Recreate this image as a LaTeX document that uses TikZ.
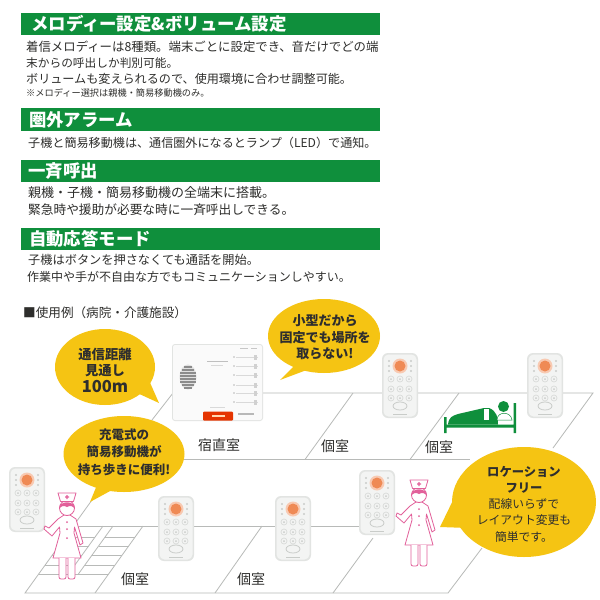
\documentclass[tikz,border=0pt]{standalone}
\usepackage{fontspec}
\setmainfont{Noto Sans CJK JP}
\definecolor{barg}{HTML}{0F8F3C}
\definecolor{bubb}{HTML}{F5C413}
\definecolor{pinkn}{HTML}{E2609A}
\definecolor{floorg}{HTML}{B8BAB8}
\definecolor{txt}{HTML}{2E2E2C}
\definecolor{org}{HTML}{EF8A55}
\definecolor{devout}{HTML}{E2E4E2}
\definecolor{devin}{HTML}{F3F4F3}
\definecolor{btn}{HTML}{C9CCC9}
\tikzset{
 bar/.style={fill=barg,draw=none},
 head/.style={anchor=west,text=white,font=\fontsize{17.4}{17}\selectfont\bfseries,inner sep=0pt},
 body/.style={anchor=west,text=txt,inner sep=0pt},
 room/.style={text=txt,font=\fontsize{14}{14}\selectfont,inner sep=0pt},
 fl/.style={draw=floorg,line width=.8pt},
 bub/.style={fill=bubb,draw=none},
 btext/.style={align=center,text=black!82,inner sep=0pt},
 nur/.style={draw=pinkn,line width=.8pt,fill=white,line join=round},
 remote/.pic={
  \fill[devout,rounded corners=6pt] (0,0) rectangle (36,65);
  \fill[devin,rounded corners=5pt] (1.5,1.5) rectangle (34.5,63.5);
  \fill[org!45!white] (18,13) circle (7.5);
  \fill[org] (18,13) circle (5.5);
  \foreach \x/\y in {7/8,7/13,7/18,29/8,29/13,29/18}{\fill[btn] (\x,\y) circle (1.1);}
  \foreach \y in {26,36,45}{\foreach \x in {9,18,27}{\draw[btn!70!white,line width=.7pt] (\x,\y) circle (3);\fill[btn] (\x,\y) circle (1);}}
  \draw[btn,line width=.8pt,fill=devin] (18,53) ellipse (7 and 4);
  \draw[btn,line width=.6pt] (11,61)--(25,61);
 },
 nurse/.pic={
  \draw[nur] (-3,7)--(-9,11)--(-18,20)--(-22,18)--(-23,21)--(-15,28)--(-7.5,19)--(-7,25)--(-14,50)--(14,50)--(7,25)--(7.5,19)--(13,37)--(16,35)--(9,11)--(3,7)--cycle;
  \draw[nur,rounded corners=2pt] (-8,50)--(-8,71)--(-1,71)--(-1,50) (1,50)--(1,71)--(8,71)--(8,50);
  \fill[pinkn] (0,14) circle (1) (0,21) circle (1) (0,30) circle (1);
  \draw[nur] (0,0) circle (7.5);
  \fill[pinkn] (-8,1)..controls (-8,-8) and (8,-8)..(8,1)..controls (6,-2) and (3,-3)..(0,-1)..controls (-3,-3) and (-6,-2)..(-8,1)--cycle;
  \draw[nur] (-9,-15)--(9,-15)--(6.5,-6.5)--(-6.5,-6.5)--cycle;
  \fill[pinkn] (-.7,-13) rectangle (.7,-9) (-2,-11.7) rectangle (2,-10.3);
 },
}
\newcommand{\fsz}[1]{\fontsize{#1}{14}\selectfont}
\begin{document}
\begin{tikzpicture}[x=1pt,y=-1pt]
\useasboundingbox (0,0) rectangle (600,600);
\fill[white] (0,0) rectangle (600,600);
% header bars
\fill[bar] (21,13) rectangle (380,35);
\fill[bar] (21,108) rectangle (380,131);
\fill[bar] (21,160) rectangle (380,182);
\fill[bar] (21,228) rectangle (380,250);
\node[head] (h1) at (31,24) {メロディー設定\&ボリューム設定};
\node[head] (h2) at (29,120) {圏外アラーム};
\node[head] (h3) at (28,171) {一斉呼出};
\node[head] (h4) at (29,239) {自動応答モード};
\node[body,font=\fsz{12.4}] (t1) at (26,47) {着信メロディーは8種類。端末ごとに設定でき、音だけでどの端};
\node[body,font=\fsz{11.7}] (t2) at (26,63) {末からの呼出しか判別可能。};
\node[body,font=\fsz{12.1}] (t3) at (26,79) {ボリュームも変えられるので、使用環境に合わせ調整可能。};
\node[body,font=\fsz{9.2}] (t4) at (26,93) {※メロディー選択は親機・簡易移動機のみ。};
\node[body,font=\fsz{12.1}] (t5) at (28,143) {子機と簡易移動機は、通信圏外になるとランプ（LED）で通知。};
\node[body,font=\fsz{13}] (t6) at (28,193) {親機・子機・簡易移動機の全端末に搭載。};
\node[body,font=\fsz{12.7}] (t7) at (28,210) {緊急時や援助が必要な時に一斉呼出しできる。};
\node[body,font=\fsz{12.2}] (t8) at (28,260) {子機はボタンを押さなくても通話を開始。};
\node[body,font=\fsz{12}] (t9) at (27,277) {作業中や手が不自由な方でもコミュニケーションしやすい。};
\node[body,font=\fsz{12.6}] (t10) at (23,313) {■使用例（病院・介護施設）};
% floors
\draw[fl] (263,393)--(593,393)--(553,448);
\draw[fl] (173,393)--(152,420);
\draw[fl] (183,459.5)--(470,459.5);
\draw[fl] (353,393)--(305,459.5);
\draw[fl] (459,393)--(410,459.5);
\draw[fl] (92,500)--(25,593)--(448,593)--(482,548);
\draw[fl] (73,526)--(360,526);
\draw[fl] (262,526)--(215,593);
\draw[fl] (373,538)--(333,593);
\draw[fl] (103,526)--(68.4,574);
\draw[fl] (113,526)--(78.4,574);
\draw[fl] (143,526)--(95,593);
\foreach \y/\a/\b/\c/\d in {537/65.4/95/105/135,546/58.9/88.6/98.6/128.6,555/52.4/82/92/122,565/45.2/75/85/115}{\draw[fl] (\a,\y)--(\b,\y) (\c,\y)--(\d,\y);}
\draw[fl] (38.7,574)--(108.4,574);
% main unit
\fill[devout,rounded corners=3pt] (172,344) rectangle (263,421);
\fill[white!96!gray,rounded corners=2pt] (173,345) rectangle (262,420);
\fill[black!12] (188,377) ellipse (8.5 and 12.5);
\foreach \y/\w in {367/4,370/6,373/8,376/8,379/8,382/8,385/6,388/4}{\draw[black!45,line width=1.2pt] (188-\w,\y)--(188+\w,\y);}
\fill[black!25] (207,360.5) rectangle (228,362);
\fill[black!15] (211,365) rectangle (223,366);
\foreach \y in {357,366,375,385,393,402}{\draw[black!15,line width=.6pt] (236,\y)--(258,\y);\fill[black!28] (234,\y) circle (.9);\fill[black!18] (254,\y-2) rectangle (257,\y+3);}
\fill[black!22] (240,348) rectangle (248,349);\fill[black!22] (251,348) rectangle (257,349);
\fill[black!28] (238,413) rectangle (254,415);
\fill[black!15] (210,407) rectangle (225,408);
\fill[fill=red!55!orange!90!black,rounded corners=1pt] (203,411.5) rectangle (233,420.5);
\fill[white!70!orange] (212,415) rectangle (225,417);
% remotes
\pic at (382,353) {remote};
\pic at (527,353) {remote};
\pic at (9,467) {remote};
\pic at (158,496) {remote};
\pic at (275,496) {remote};
\pic at (359,470) {remote};
% bed
\fill[barg] (444,417) rectangle (446.5,433) (513.5,403) rectangle (516,433) (444,424.5) rectangle (516,427.5);
\fill[barg] (448,424.5)..controls (449,417) and (452,416)..(458,414)--(484,408)--(489,408)..controls (497,411) and (498,418)..(498,424.5)--cycle;
\fill[white] (484,408.5) rectangle (489,420);
\fill[barg] (503.5,406.5) circle (5.5);
\draw[barg,line width=.5pt,fill=white] (497,420)..controls (497,411) and (511,411)..(512,420)--cycle;
% rooms
\node[room] (r1) at (219,445) {宿直室};
\node[room] (r2) at (335,446) {個室};
\node[room] (r3) at (439,447) {個室};
\node[room] (r4) at (135,579) {個室};
\node[room] (r5) at (251,579) {個室};
% nurses
\pic at (67,508) {nurse};
\pic at (419,495) {nurse};
% bubbles
\fill[bub] (105,367) ellipse (50 and 38);
\fill[bub] (135,392)--(159,403)--(148,378)--cycle;
\node[btext,font=\fontsize{13.3}{16.5}\selectfont\bfseries] (b1) at (105,370) {通信距離\\見通し\\{\fontsize{16.5}{16.5}\selectfont 100m}};
\fill[bub] (124,454) ellipse (60.5 and 38);
\fill[bub] (97,485)--(90,502)--(112,490)--cycle;
\node[btext,font=\fontsize{12.5}{17.5}\selectfont\bfseries] (b2) at (124,452) {充電式の\\簡易移動機が\\持ち歩きに便利!};
\fill[bub] (324,336) ellipse (56 and 37);
\fill[bub] (298,362)--(280,380)--(312,368)--cycle;
\node[btext,font=\fontsize{13}{16.5}\selectfont\bfseries] (b3) at (325,337.5) {小型だから\\固定でも場所を\\取らない!};
\fill[bub] (524,502) ellipse (72 and 55);
\fill[bub] (458,490)--(440,527)--(468,528)--cycle;
\node[btext,font=\fontsize{11.8}{16.3}\selectfont] (b4) at (524,504) {{\fontsize{12.3}{16.3}\selectfont\bfseries ロケーション}\\{\fontsize{12.3}{16.3}\selectfont\bfseries フリー}\\配線いらずで\\レイアウト変更も\\簡単です。};
\end{tikzpicture}
\end{document}
